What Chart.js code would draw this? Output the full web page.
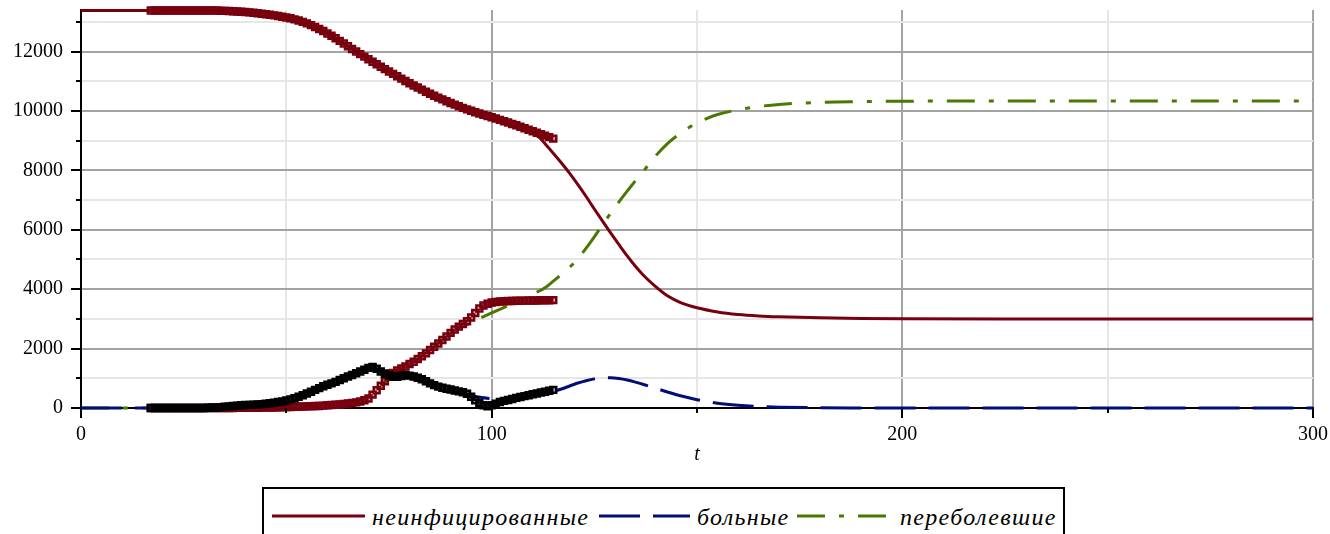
<!DOCTYPE html>
<html>
<head>
<meta charset="utf-8">
<script src="https://cdn.jsdelivr.net/npm/chart.js@4.4.0/dist/chart.umd.min.js"></script>
<style>
html,body{margin:0;padding:0;background:#fff;overflow:hidden;}
#wrap{position:relative;width:1330px;height:534px;overflow:hidden;background:#fff;}
#c{position:absolute;left:0;top:0;}
#legend{position:absolute;left:262px;top:487px;width:803px;height:80px;border:2px solid #000;box-sizing:border-box;background:#fff;}
#legend svg{position:absolute;overflow:visible;}
#legend span{position:absolute;font-family:"Liberation Serif","DejaVu Serif","Times New Roman",serif;font-style:italic;font-size:24px;line-height:24px;letter-spacing:1.3px;white-space:nowrap;color:#000;}
</style>
</head>
<body>
<div id="wrap">
<canvas id="c" width="1330" height="534"></canvas>
<div id="legend"></div>
</div>
<script>
// ---- data ----
const T_DATA = [17,18,19,20,21,22,23,24,25,26,27,28,29,30,31,32,33,34,35,36,37,38,39,40,41,42,43,44,45,46,47,48,49,50,51,52,53,54,55,56,57,58,59,60,61,62,63,64,65,66,67,68,69,70,71,72,73,74,75,76,77,78,79,80,81,82,83,84,85,86,87,88,89,90,91,92,93,94,95,96,97,98,99,100,101,102,103,104,105,106,107,108,109,110,111,112,113,114,115];
const S_DATA = [13380,13380,13380,13380,13380,13380,13380,13380,13380,13380,13380,13380,13380,13380,13380,13380,13380,
  13375,13370,13365,13360,13350,13340,13330,13320,13305,13290,13275,13260,13240,13220,13200,13175,13150,13120,13085,13045,13000,12950,12890,12830,12760,12690,12610,12530,12450,12360,12270,12180,12090,12000,11915,11830,11745,11660,11575,11490,11410,11330,11250,11170,11090,11010,10935,10860,10790,10720,10650,10580,10515,10450,10390,10330,10270,10215,10160,10105,10055,10005,9960,9915,9870,9830,9790,9745,9700,9655,9610,9565,9520,9470,9420,9370,9320,9270,9220,9170,9120,9070];
const I_DATA = [0,0,0,0,0,0,0,0,0,0,0,0,0,0,10,15,20,30,40,50,
  70,80,90,100,105,110,120,130,145,160,
  180,200,220,250,290,330,380,430,490,550,
  610,670,730,780,830,880,940,1000,1060,1110,
  1170,1230,1290,1350,1380,1320,1230,1160,1100,1060,
  1050,1080,1110,1090,1060,1020,970,900,830,770,
  720,680,650,620,590,560,530,480,380,260,
  170,90,60,90,140,200,240,270,300,340,
  370,400,430,460,490,520,550,580,610];
const R_DATA = [0,0,0,0,0,0,0,0,0,0,0,0,0,0,0,0,0,0,0,0,0,5,5,5,10,10,10,15,15,
  20,20,25,25,30,35,40,45,50,55,
  60,65,70,80,90,100,110,120,135,150,
  170,190,220,260,320,
  450,600,750,900,1050,1180,1260,1330,1400,1480,
  1560,1650,1740,1840,1950,2060,2170,2290,2410,2530,
  2640,2740,2830,2920,3050,3200,3350,3450,3510,3550,
  3570,3585,3595,3600,3605,3610,3612,3615,3618,3620,
  3622,3625,3627,3630,3632];

const T_MODEL = [0,5,10,15,20,25,30,35,40,45,50,55,60,65,70,75,80,85,90,95,100,105,108,111,113,115,117,119,121,123,125,127,129,131,133,135,137,140,143,146,150,155,160,165,170,180,190,200,225,250,275,300];
const S_MODEL = [13380,13380,13380,13380,13380,13379,13376,13368,13335,13265,13150,12950,12610,12180,11745,11330,10935,10580,10270,10005,9790,9565,9420,9200,8900,8580,8250,7900,7520,7120,6700,6290,5890,5500,5120,4770,4460,4080,3760,3550,3375,3235,3150,3100,3070,3035,3015,3005,3000,3000,3000,3000];
const I_MODEL = [0,0,1,2,4,8,15,35,90,150,250,480,780,1060,1320,1180,1080,830,620,420,320,330,380,450,500,555,640,740,840,920,980,1010,1015,990,940,870,790,660,530,410,280,160,90,50,28,9,3,1,0,0,0,0];
const R_MODEL = [0,0,0,1,2,4,8,15,25,35,50,70,110,180,380,1000,1420,1950,2500,2880,3200,3510,3700,3900,4050,4270,4500,4740,5030,5380,5760,6170,6560,6940,7300,7650,7980,8500,8930,9250,9600,9880,10040,10150,10220,10290,10315,10330,10335,10335,10335,10335];

const X_TICKS = [0,50,100,150,200,250,300];
const X_LABELS = [0,100,200,300];
const Y_TICKS = [0,1000,2000,3000,4000,5000,6000,7000,8000,9000,10000,11000,12000,13000];
const Y_LABELS = [0,2000,4000,6000,8000,10000,12000];
const SERIES_NAMES = ['неинфицированные','больные','переболевшие'];
const X_TITLE = 't';

// ---- styles ----
const RED = '#78000E', NAVY = '#000E78', GREEN = '#4A7800', BLACK = '#000000';
const MAJOR_GRID = '#a3a3a3', MINOR_GRID = '#e6e6e6';
const FONT = '"Liberation Serif", "DejaVu Serif", "Times New Roman", serif';

const pairs = (xs, ys) => xs.map((x, i) => ({x: x, y: ys[i]}));

const markerDs = (label, ys, color, fill) => ({
  label: label, data: pairs(T_DATA, ys), showLine: false,
  pointStyle: 'rect', pointRadius: 4.2, pointHoverRadius: 4.2,
  pointBorderWidth: 2.5, pointBorderColor: color, pointBackgroundColor: fill,
  borderColor: color, clip: 10
});
const lineDs = (label, ys, color, dash) => ({
  label: label, data: pairs(T_MODEL, ys), showLine: true,
  borderColor: color, borderWidth: 3, borderDash: dash, borderCapStyle: 'butt',
  pointRadius: 0, pointHoverRadius: 0, cubicInterpolationMode: 'monotone', fill: false, clip: 10
});

const minorTicks = {
  id: 'minorTicks',
  afterDraw(chart) {
    const {ctx, chartArea, scales} = chart;
    ctx.save();
    ctx.strokeStyle = BLACK; ctx.lineWidth = 2;
    ctx.beginPath();
    Y_TICKS.filter(v => !Y_LABELS.includes(v)).forEach(v => {
      const p = Math.round(scales.y.getPixelForValue(v));
      ctx.moveTo(chartArea.left - 5, p); ctx.lineTo(chartArea.left, p);
    });
    X_TICKS.filter(v => !X_LABELS.includes(v)).forEach(v => {
      const p = Math.round(scales.x.getPixelForValue(v));
      ctx.moveTo(p, chartArea.bottom); ctx.lineTo(p, chartArea.bottom + 5);
    });
    ctx.stroke();
    ctx.restore();
  }
};

const gridColor = (labels) => (c) => {
  const v = c.tick ? c.tick.value : null;
  if (v === 0) return 'rgba(0,0,0,0)';
  return labels.includes(v) ? MAJOR_GRID : MINOR_GRID;
};
const tickColor = (labels) => (c) => {
  const v = c.tick ? c.tick.value : null;
  return labels.includes(v) ? BLACK : 'rgba(0,0,0,0)';
};

new Chart(document.getElementById('c'), {
  type: 'line',
  data: {
    datasets: [
      markerDs('I data', I_DATA, BLACK, 'rgba(0,0,0,0.35)'),
      markerDs('S data', S_DATA, RED, 'rgba(120,0,14,0.35)'),
      markerDs('R data', R_DATA, RED, 'rgba(120,0,14,0.35)'),
      lineDs(SERIES_NAMES[0], S_MODEL, RED, []),
      lineDs(SERIES_NAMES[1], I_MODEL, NAVY, [41, 13]),
      lineDs(SERIES_NAMES[2], R_MODEL, GREEN, [28, 14, 5, 14])
    ]
  },
  options: {
    responsive: false, animation: false, events: [],
    layout: {padding: {left: 0, right: 17, top: 10, bottom: 66}},
    plugins: {legend: {display: false}, tooltip: {enabled: false}},
    scales: {
      x: {
        type: 'linear', min: 0, max: 300,
        afterBuildTicks: s => { s.ticks = X_TICKS.map(v => ({value: v})); },
        afterFit: s => { s.height = 60; s.paddingLeft = 0; s.paddingRight = 0; },
        ticks: {
          autoSkip: false, maxRotation: 0, padding: 5, color: BLACK,
          font: {family: FONT, size: 20},
          callback: v => X_LABELS.includes(v) ? String(v) : ''
        },
        grid: {color: gridColor(X_LABELS), lineWidth: 2, tickColor: tickColor(X_LABELS), tickLength: 10, tickWidth: 2},
        border: {color: BLACK, width: 2, z: -1},
        title: {display: true, text: X_TITLE, color: BLACK, padding: {top: 0, bottom: 1},
                font: {family: FONT, size: 20, style: 'italic'}}
      },
      y: {
        type: 'linear', min: 0, max: 13400,
        afterBuildTicks: s => { s.ticks = Y_TICKS.map(v => ({value: v})); },
        afterFit: s => { s.width = 81; s.paddingTop = 0; s.paddingBottom = 0; },
        ticks: {
          autoSkip: false, padding: 8, color: BLACK,
          font: {family: FONT, size: 20},
          callback: v => Y_LABELS.includes(v) ? String(v) : ''
        },
        grid: {color: gridColor(Y_LABELS), lineWidth: 2, tickColor: tickColor(Y_LABELS), tickLength: 10, tickWidth: 2},
        border: {color: BLACK, width: 2, z: -1}
      }
    }
  },
  plugins: [minorTicks]
});

// ---- legend (HTML text, line samples) ----
const LEG = document.getElementById('legend');
const OX = 264, OY = 489; // inner origin of legend box
const legendItems = [
  {name: SERIES_NAMES[0], color: RED,   dash: '',           x1: 272, x2: 365, tx: 372},
  {name: SERIES_NAMES[1], color: NAVY,  dash: '41 13',      x1: 599, x2: 690, tx: 697},
  {name: SERIES_NAMES[2], color: GREEN, dash: '28 14 5 14', x1: 797, x2: 886, tx: 900}
];
const LY = 516;
legendItems.forEach(it => {
  const w = it.x2 - it.x1;
  const svg = document.createElementNS('http://www.w3.org/2000/svg', 'svg');
  svg.setAttribute('width', w); svg.setAttribute('height', 8);
  svg.style.left = (it.x1 - OX) + 'px'; svg.style.top = (LY - 4 - OY) + 'px';
  const ln = document.createElementNS('http://www.w3.org/2000/svg', 'line');
  ln.setAttribute('x1', 0); ln.setAttribute('x2', w); ln.setAttribute('y1', 4); ln.setAttribute('y2', 4);
  ln.setAttribute('stroke', it.color); ln.setAttribute('stroke-width', 3);
  if (it.dash) ln.setAttribute('stroke-dasharray', it.dash);
  svg.appendChild(ln); LEG.appendChild(svg);
  const sp = document.createElement('span');
  sp.textContent = it.name;
  sp.style.left = (it.tx - OX) + 'px'; sp.style.top = (505 - OY) + 'px';
  LEG.appendChild(sp);
});
</script>
</body>
</html>
